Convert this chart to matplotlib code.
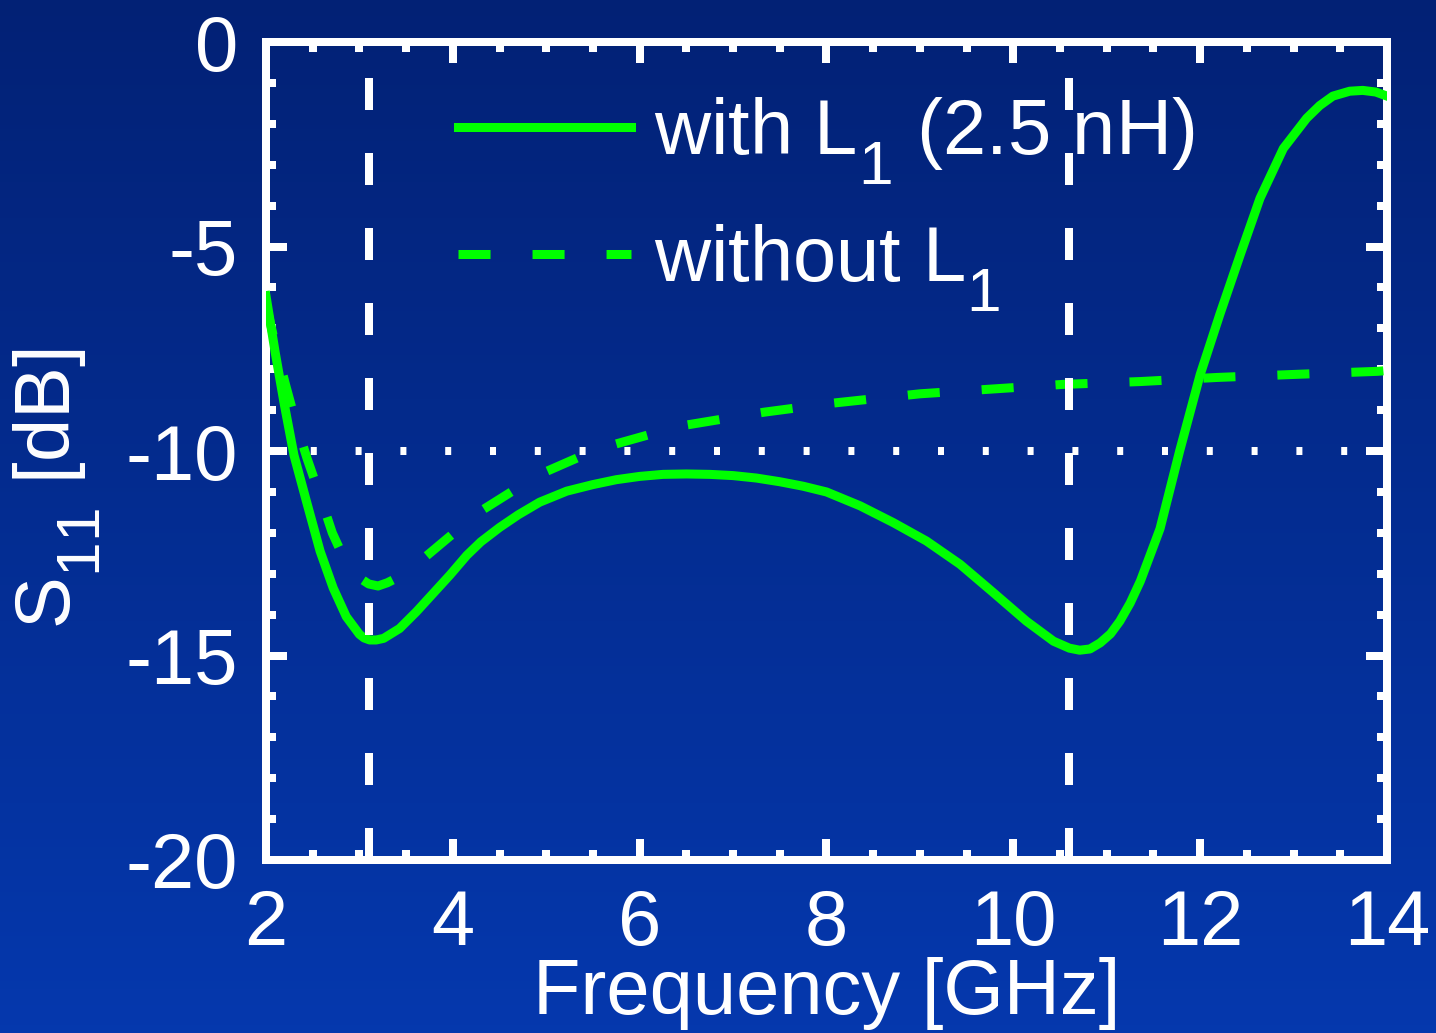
import matplotlib
matplotlib.use('agg')
import matplotlib.pyplot as plt
import matplotlib._mathtext as mathtext_internal
import numpy as np

# S11 with the 2.5 nH inductor L1
freq_with = [2.0, 2.1, 2.2, 2.3, 2.43, 2.58, 2.72, 2.86, 3.0, 3.05, 3.11, 3.18, 3.26,
             3.43, 3.61, 3.79, 3.97, 4.15, 4.3, 4.5, 4.7, 4.93, 5.22, 5.5, 5.75, 6.0,
             6.25, 6.5, 6.75, 7.0, 7.25, 7.5, 7.75, 8.0, 8.36, 8.715, 9.07, 9.43,
             9.785, 10.14, 10.43, 10.6, 10.71, 10.82, 10.93, 11.04, 11.14, 11.25,
             11.36, 11.57, 11.78, 12.0, 12.21, 12.43, 12.64, 12.89, 13.14, 13.28,
             13.42, 13.6, 13.74, 13.88, 14.0]
s11_with = [-6.2, -7.6, -8.9, -10.1, -11.2, -12.45, -13.35, -14.05, -14.48, -14.57,
            -14.62, -14.62, -14.58, -14.34, -13.93, -13.48, -13.03, -12.55, -12.22,
            -11.87, -11.56, -11.25, -10.98, -10.82, -10.7, -10.62, -10.57, -10.56,
            -10.57, -10.6, -10.66, -10.75, -10.86, -11.0, -11.34, -11.75, -12.2,
            -12.77, -13.46, -14.16, -14.65, -14.82, -14.87, -14.84, -14.69, -14.47,
            -14.16, -13.72, -13.18, -11.9, -10.0, -8.13, -6.66, -5.19, -3.82, -2.6,
            -1.86, -1.55, -1.32, -1.2, -1.18, -1.22, -1.32]

# S11 without L1
freq_without = [2.0, 2.1, 2.21, 2.32, 2.44, 2.58, 2.71, 2.85, 3.0, 3.1, 3.2, 3.3,
                3.49, 3.7, 3.94, 4.29, 4.75, 5.0, 5.35, 5.71, 6.1, 6.51, 7.33, 8.06,
                9.0, 9.86, 10.53, 11.36, 12.18, 12.96, 13.9, 14.0]
s11_without = [-6.4, -7.4, -8.38, -9.3, -10.18, -11.1, -12.0, -12.7, -13.1, -13.25,
               -13.3, -13.22, -13.0, -12.6, -12.14, -11.48, -10.82, -10.5, -10.15,
               -9.85, -9.6, -9.36, -9.05, -8.83, -8.6, -8.47, -8.37, -8.3, -8.2,
               -8.13, -8.05, -8.03]

band_edges = [3.1, 10.6]   # UWB band, GHz
threshold = -10            # dB

xticks = [2, 4, 6, 8, 10, 12, 14]
yticks = [-20, -15, -10, -5, 0]

plt.rcParams['font.family'] = 'Liberation Sans'
plt.rcParams['mathtext.fontset'] = 'custom'
plt.rcParams['mathtext.rm'] = 'Liberation Sans'
plt.rcParams['mathtext.it'] = 'Liberation Sans:italic'
plt.rcParams['mathtext.bf'] = 'Liberation Sans:bold'
plt.rcParams['axes.unicode_minus'] = False

# bigger, lower subscripts (PowerPoint style)
mathtext_internal.SHRINK_FACTOR = 0.8
mathtext_internal.FontConstantsBase.sub1 = 0.75

GREEN = '#00ff00'
LW = 5.76
FS = 56

fig = plt.figure(figsize=(14.36, 10.33), dpi=100)

# blue backdrop, darker at the top
bg = fig.add_axes([0, 0, 1, 1], zorder=-10)
top_c = np.array([0.01, 0.13, 0.46])
bot_c = np.array([0.02, 0.22, 0.68])
t = np.linspace(0, 1, 256)[:, None, None]
bg.imshow(top_c + (bot_c - top_c) * t, aspect='auto', extent=[0, 1, 0, 1])
bg.axis('off')

ax = fig.add_axes([0.1852, 0.1675, 0.7807, 0.7917])
ax.set_facecolor('none')

ax.plot(freq_with, s11_with, color=GREEN, lw=6.5, label=r'with L$_1$ (2.5 nH)',
        solid_joinstyle='round', zorder=3)
ax.plot(freq_without, s11_without, color=GREEN, lw=6.5, ls=(0, (3.55, 4.65)),
        dash_capstyle='butt', label=r'without L$_1$', zorder=3)

for f in band_edges:
    ax.axvline(f, color='white', lw=LW, ls=(0, (4, 5.375)), zorder=4)
ax.axhline(threshold, color='white', lw=LW, ls=(0, (0.75, 4.85)), zorder=4)

ax.set_xlim(2, 14)
ax.set_ylim(-20, 0)
ax.set_xticks(xticks)
ax.set_xticks(np.arange(2, 14.01, 0.5), minor=True)
ax.set_yticks(yticks)
ax.set_yticks(np.arange(-20, 0.01, 1), minor=True)
ax.tick_params(which='both', direction='in', top=True, right=True, color='white',
               width=LW, labelcolor='white', labelsize=FS, pad=20)
ax.tick_params(which='major', length=15)
ax.tick_params(which='minor', length=7.5)
for s in ax.spines.values():
    s.set_color('white')
    s.set_linewidth(LW)

ax.set_xlabel('Frequency [GHz]', color='white', fontsize=FS, va='top')
ax.xaxis.set_label_coords(0.5, -0.119)
ax.set_ylabel(r'S$_{11}$ [dB]', color='white', fontsize=FS)
ax.yaxis.set_label_coords(-0.1454, 0.4535)

ax.legend(loc='upper left', bbox_to_anchor=(0.1715, 0.935), frameon=False, fontsize=FS,
          handlelength=2.22, handletextpad=0.3, labelspacing=0.45, borderpad=0,
          borderaxespad=0, labelcolor='white')

plt.savefig('out.png', dpi=100)
